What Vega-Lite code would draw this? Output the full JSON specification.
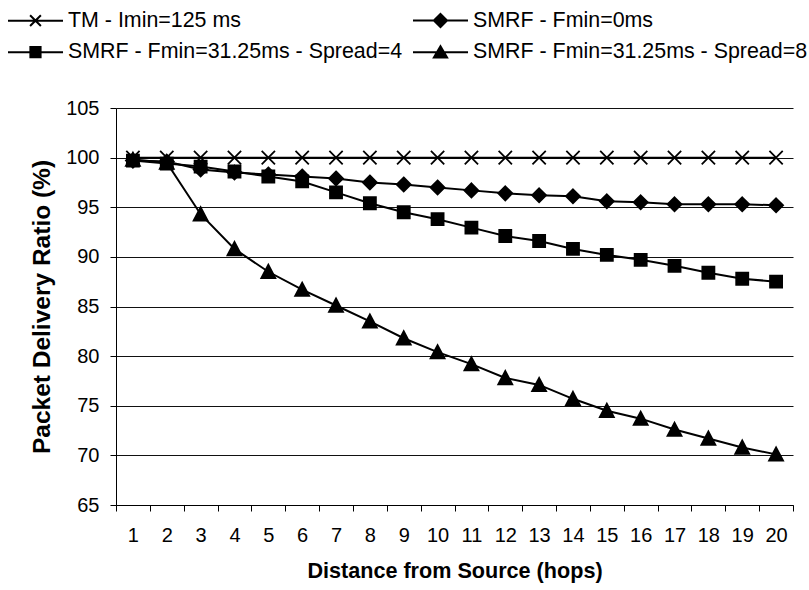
{
  "$schema": "https://vega.github.io/schema/vega-lite/v6.json",
  "autosize": {"type": "none"},
  "padding": {"left": 116, "top": 108, "right": 16, "bottom": 85},
  "width": 677,
  "height": 397,
  "background": "white",
  "config": {
    "font": "Liberation Sans",
    "view": {"stroke": null}
  },
  "data": {
    "values": [
      {"hop": 1, "series": "TM - Imin=125 ms", "pdr": 100},
      {"hop": 2, "series": "TM - Imin=125 ms", "pdr": 100},
      {"hop": 3, "series": "TM - Imin=125 ms", "pdr": 100},
      {"hop": 4, "series": "TM - Imin=125 ms", "pdr": 100},
      {"hop": 5, "series": "TM - Imin=125 ms", "pdr": 100},
      {"hop": 6, "series": "TM - Imin=125 ms", "pdr": 100},
      {"hop": 7, "series": "TM - Imin=125 ms", "pdr": 100},
      {"hop": 8, "series": "TM - Imin=125 ms", "pdr": 100},
      {"hop": 9, "series": "TM - Imin=125 ms", "pdr": 100},
      {"hop": 10, "series": "TM - Imin=125 ms", "pdr": 100},
      {"hop": 11, "series": "TM - Imin=125 ms", "pdr": 100},
      {"hop": 12, "series": "TM - Imin=125 ms", "pdr": 100},
      {"hop": 13, "series": "TM - Imin=125 ms", "pdr": 100},
      {"hop": 14, "series": "TM - Imin=125 ms", "pdr": 100},
      {"hop": 15, "series": "TM - Imin=125 ms", "pdr": 100},
      {"hop": 16, "series": "TM - Imin=125 ms", "pdr": 100},
      {"hop": 17, "series": "TM - Imin=125 ms", "pdr": 100},
      {"hop": 18, "series": "TM - Imin=125 ms", "pdr": 100},
      {"hop": 19, "series": "TM - Imin=125 ms", "pdr": 100},
      {"hop": 20, "series": "TM - Imin=125 ms", "pdr": 100},
      {"hop": 1, "series": "SMRF - Fmin=0ms", "pdr": 99.7},
      {"hop": 2, "series": "SMRF - Fmin=0ms", "pdr": 99.6},
      {"hop": 3, "series": "SMRF - Fmin=0ms", "pdr": 98.8},
      {"hop": 4, "series": "SMRF - Fmin=0ms", "pdr": 98.5},
      {"hop": 5, "series": "SMRF - Fmin=0ms", "pdr": 98.3},
      {"hop": 6, "series": "SMRF - Fmin=0ms", "pdr": 98.1},
      {"hop": 7, "series": "SMRF - Fmin=0ms", "pdr": 97.9},
      {"hop": 8, "series": "SMRF - Fmin=0ms", "pdr": 97.5},
      {"hop": 9, "series": "SMRF - Fmin=0ms", "pdr": 97.3},
      {"hop": 10, "series": "SMRF - Fmin=0ms", "pdr": 97.0},
      {"hop": 11, "series": "SMRF - Fmin=0ms", "pdr": 96.7},
      {"hop": 12, "series": "SMRF - Fmin=0ms", "pdr": 96.4},
      {"hop": 13, "series": "SMRF - Fmin=0ms", "pdr": 96.2},
      {"hop": 14, "series": "SMRF - Fmin=0ms", "pdr": 96.1},
      {"hop": 15, "series": "SMRF - Fmin=0ms", "pdr": 95.6},
      {"hop": 16, "series": "SMRF - Fmin=0ms", "pdr": 95.5},
      {"hop": 17, "series": "SMRF - Fmin=0ms", "pdr": 95.3},
      {"hop": 18, "series": "SMRF - Fmin=0ms", "pdr": 95.3},
      {"hop": 19, "series": "SMRF - Fmin=0ms", "pdr": 95.3},
      {"hop": 20, "series": "SMRF - Fmin=0ms", "pdr": 95.2},
      {"hop": 1, "series": "SMRF - Fmin=31.25ms - Spread=4", "pdr": 99.7},
      {"hop": 2, "series": "SMRF - Fmin=31.25ms - Spread=4", "pdr": 99.4},
      {"hop": 3, "series": "SMRF - Fmin=31.25ms - Spread=4", "pdr": 99.1},
      {"hop": 4, "series": "SMRF - Fmin=31.25ms - Spread=4", "pdr": 98.6},
      {"hop": 5, "series": "SMRF - Fmin=31.25ms - Spread=4", "pdr": 98.1},
      {"hop": 6, "series": "SMRF - Fmin=31.25ms - Spread=4", "pdr": 97.6},
      {"hop": 7, "series": "SMRF - Fmin=31.25ms - Spread=4", "pdr": 96.5},
      {"hop": 8, "series": "SMRF - Fmin=31.25ms - Spread=4", "pdr": 95.4},
      {"hop": 9, "series": "SMRF - Fmin=31.25ms - Spread=4", "pdr": 94.5},
      {"hop": 10, "series": "SMRF - Fmin=31.25ms - Spread=4", "pdr": 93.8},
      {"hop": 11, "series": "SMRF - Fmin=31.25ms - Spread=4", "pdr": 92.95},
      {"hop": 12, "series": "SMRF - Fmin=31.25ms - Spread=4", "pdr": 92.1},
      {"hop": 13, "series": "SMRF - Fmin=31.25ms - Spread=4", "pdr": 91.6},
      {"hop": 14, "series": "SMRF - Fmin=31.25ms - Spread=4", "pdr": 90.8},
      {"hop": 15, "series": "SMRF - Fmin=31.25ms - Spread=4", "pdr": 90.2},
      {"hop": 16, "series": "SMRF - Fmin=31.25ms - Spread=4", "pdr": 89.7},
      {"hop": 17, "series": "SMRF - Fmin=31.25ms - Spread=4", "pdr": 89.1},
      {"hop": 18, "series": "SMRF - Fmin=31.25ms - Spread=4", "pdr": 88.4},
      {"hop": 19, "series": "SMRF - Fmin=31.25ms - Spread=4", "pdr": 87.8},
      {"hop": 20, "series": "SMRF - Fmin=31.25ms - Spread=4", "pdr": 87.5},
      {"hop": 1, "series": "SMRF - Fmin=31.25ms - Spread=8", "pdr": 99.8},
      {"hop": 2, "series": "SMRF - Fmin=31.25ms - Spread=8", "pdr": 99.5},
      {"hop": 3, "series": "SMRF - Fmin=31.25ms - Spread=8", "pdr": 94.3},
      {"hop": 4, "series": "SMRF - Fmin=31.25ms - Spread=8", "pdr": 90.8},
      {"hop": 5, "series": "SMRF - Fmin=31.25ms - Spread=8", "pdr": 88.5},
      {"hop": 6, "series": "SMRF - Fmin=31.25ms - Spread=8", "pdr": 86.7},
      {"hop": 7, "series": "SMRF - Fmin=31.25ms - Spread=8", "pdr": 85.1},
      {"hop": 8, "series": "SMRF - Fmin=31.25ms - Spread=8", "pdr": 83.5},
      {"hop": 9, "series": "SMRF - Fmin=31.25ms - Spread=8", "pdr": 81.8},
      {"hop": 10, "series": "SMRF - Fmin=31.25ms - Spread=8", "pdr": 80.4},
      {"hop": 11, "series": "SMRF - Fmin=31.25ms - Spread=8", "pdr": 79.2},
      {"hop": 12, "series": "SMRF - Fmin=31.25ms - Spread=8", "pdr": 77.8},
      {"hop": 13, "series": "SMRF - Fmin=31.25ms - Spread=8", "pdr": 77.1},
      {"hop": 14, "series": "SMRF - Fmin=31.25ms - Spread=8", "pdr": 75.7},
      {"hop": 15, "series": "SMRF - Fmin=31.25ms - Spread=8", "pdr": 74.5},
      {"hop": 16, "series": "SMRF - Fmin=31.25ms - Spread=8", "pdr": 73.7},
      {"hop": 17, "series": "SMRF - Fmin=31.25ms - Spread=8", "pdr": 72.6},
      {"hop": 18, "series": "SMRF - Fmin=31.25ms - Spread=8", "pdr": 71.7},
      {"hop": 19, "series": "SMRF - Fmin=31.25ms - Spread=8", "pdr": 70.8},
      {"hop": 20, "series": "SMRF - Fmin=31.25ms - Spread=8", "pdr": 70.1}
    ]
  },
  "encoding": {
    "x": {
      "field": "hop",
      "type": "ordinal",
      "scale": {"type": "band", "paddingInner": 0, "paddingOuter": 0},
      "axis": {
        "title": "Distance from Source (hops)",
        "labelAngle": 0,
        "tickBand": "extent",
        "tickSize": 6,
        "tickColor": "black",
        "domainColor": "black",
        "labelFontSize": 20,
        "labelColor": "black",
        "labelPadding": 14,
        "titleFontSize": 21.6,
        "titleFontWeight": "bold",
        "titleColor": "black",
        "titlePadding": 15,
        "grid": false
      }
    },
    "y": {
      "field": "pdr",
      "type": "quantitative",
      "scale": {"domain": [65, 105], "nice": false, "zero": false},
      "axis": {
        "title": "Packet Delivery Ratio (%)",
        "values": [65, 70, 75, 80, 85, 90, 95, 100, 105],
        "tickSize": 6,
        "tickColor": "black",
        "domainColor": "black",
        "grid": true,
        "gridColor": "#111",
        "gridWidth": 1,
        "labelFontSize": 20,
        "labelColor": "black",
        "labelPadding": 11,
        "titleFontSize": 24.5,
        "titleFontWeight": "bold",
        "titleColor": "black",
        "titlePadding": 11
      }
    }
  },
  "layer": [
    {
      "mark": {"type": "line", "color": "black", "strokeWidth": 2},
      "encoding": {"detail": {"field": "series"}}
    },
    {
      "mark": {"type": "point", "filled": true, "stroke": "black", "strokeWidth": 1.8, "opacity": 1, "size": 196},
      "encoding": {
        "shape": {
          "field": "series",
          "type": "nominal",
          "scale": {
            "domain": ["SMRF - Fmin=31.25ms - Spread=8", "SMRF - Fmin=31.25ms - Spread=4", "SMRF - Fmin=0ms", "TM - Imin=125 ms"],
            "range": ["M0,-1L1,0.9L-1,0.9Z", "M-0.86,-0.86H0.86V0.86H-0.86Z", "M0,-1L1,0L0,1L-1,0Z", "M-0.95,-0.95L0.95,0.95M-0.95,0.95L0.95,-0.95"]
          },
          "legend": null
        },
        "color": {
          "field": "series",
          "type": "nominal",
          "scale": {
            "domain": ["TM - Imin=125 ms", "SMRF - Fmin=0ms", "SMRF - Fmin=31.25ms - Spread=4", "SMRF - Fmin=31.25ms - Spread=8"],
            "range": ["black", "black", "black", "black"]
          },
          "legend": {
            "orient": "none",
            "direction": "horizontal",
            "legendX": -112.7,
            "legendY": -98.5,
            "columns": 2,
            "gridAlign": "each",
            "columnPadding": 6,
            "rowPadding": 9,
            "title": null,
            "padding": 0,
            "labelFont": "Liberation Sans",
            "labelFontSize": 21.4,
            "labelColor": "black",
            "labelLimit": 600,
            "labelOffset": 43.3,
            "symbolSize": 144,
            "symbolStrokeWidth": 2,
            "symbolStrokeColor": "black",
            "symbolOpacity": 1,
            "symbolType": {"expr": "datum.value === 'TM - Imin=125 ms' ? 'M-1,0H8.17M2.68,-0.9L4.48,0.9M2.68,0.9L4.48,-0.9' : datum.value === 'SMRF - Fmin=0ms' ? 'M-1,0H8.17M3.58,-1.1L4.68,0L3.58,1.1L2.48,0Z' : datum.value === 'SMRF - Fmin=31.25ms - Spread=4' ? 'M-1,0H8.17M2.73,-0.85H4.43V0.85H2.73Z' : 'M-1,0H8.17M3.58,-1L4.68,0.9L2.48,0.9Z'"}
          }
        }
      }
    }
  ]
}
